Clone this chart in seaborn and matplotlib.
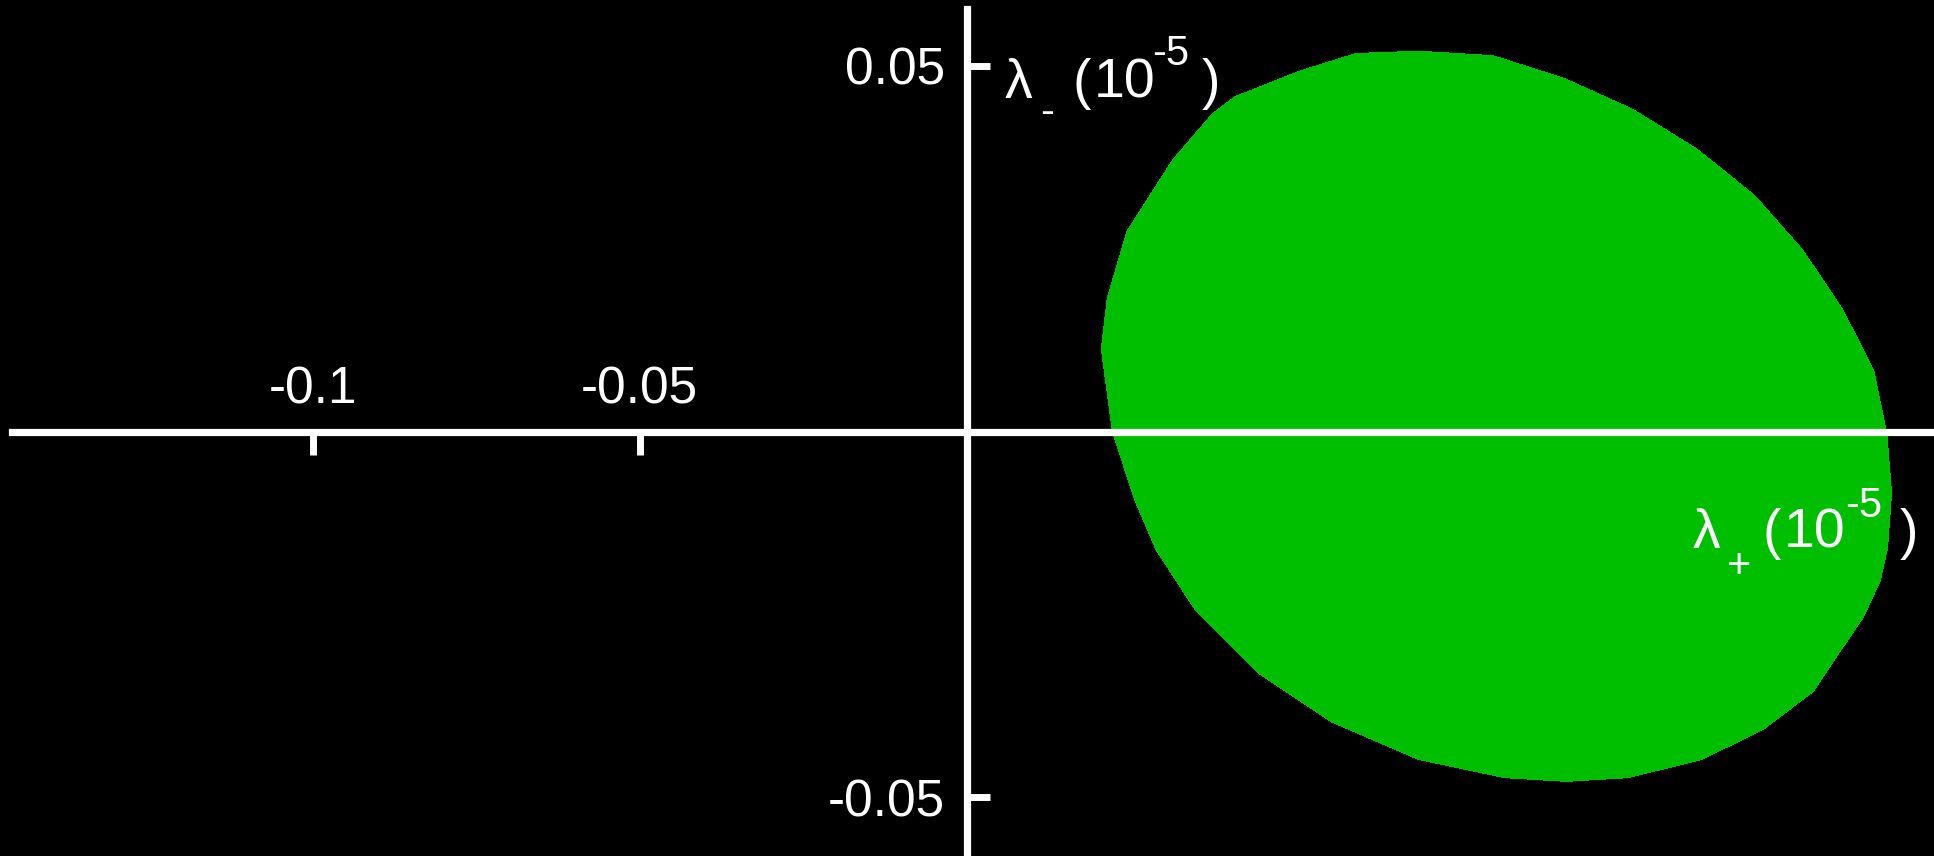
import matplotlib
matplotlib.use("Agg")
import matplotlib.pyplot as plt
import pandas as pd
import seaborn as sns

# Boundary of the allowed region in the (lambda_+, lambda_-) plane, in units of 1e-5,
# traced clockwise starting from the top
lam_plus = [0.0691, 0.0804, 0.0913, 0.1017, 0.1115, 0.1204, 0.1277, 0.1338,
            0.1386, 0.1406, 0.1413, 0.1407, 0.1396, 0.1370, 0.1332, 0.1294,
            0.1219, 0.1124, 0.1011, 0.0917, 0.0823, 0.0691, 0.0559, 0.0446,
            0.0351, 0.0290, 0.0258, 0.0224, 0.0207, 0.0216, 0.0246, 0.0316,
            0.0377, 0.0411, 0.0510, 0.0596]
lam_minus = [0.0519, 0.0513, 0.0482, 0.0440, 0.0386, 0.0322, 0.0248, 0.0167,
             0.0083, -0.0005, -0.0084, -0.0158, -0.0203, -0.0253, -0.0303, -0.0354,
             -0.0405, -0.0447, -0.0472, -0.0477, -0.0472, -0.0447, -0.0396, -0.0329,
             -0.0244, -0.0160, -0.0093, 0.0000, 0.0113, 0.0182, 0.0273, 0.0371,
             0.0434, 0.0457, 0.0492, 0.0516]

x_ticks = [-0.1, -0.05, 0.05, 0.1]
x_tick_labels = ["-0.1", "-0.05", "0.05", "0.1"]
y_ticks = [-0.05, 0.05]
y_tick_labels = ["-0.05", "0.05"]

FILL = "#00bf00"
FG = "white"
TICK_FS = 37
MAIN_FS = 40
SUP_FS = 30
SUB_FS = 30
W, H = 1934, 856

sns.set_theme(style="white", rc={
    "figure.facecolor": "black",
    "axes.facecolor": "black",
    "savefig.facecolor": "black",
    "text.color": FG,
    "xtick.color": FG,
    "ytick.color": FG,
    "axes.edgecolor": FG,
})
plt.rcParams["font.family"] = ["Liberation Sans", "DejaVu Sans"]

df = pd.DataFrame({"lp": lam_plus + lam_plus[:1], "lm": lam_minus + lam_minus[:1]})

fig = plt.figure(figsize=(W / 100, H / 100), dpi=100)
ax = fig.add_axes([0, 0, 1, 1])

ax.fill(df["lp"], df["lm"], color=FILL, lw=0, antialiased=False, zorder=1)
sns.lineplot(data=df, x="lp", y="lm", sort=False, estimator=None, color=FILL,
             lw=1, antialiased=False, ax=ax, zorder=1)

ax.set_xlim(-0.1478, 0.1479)
ax.set_ylim(-0.0580, 0.0590)

# Axes cross at the origin
for side in ("bottom", "top", "left", "right"):
    ax.spines[side].set_position(("data", 0))
ax.spines["top"].set_visible(False)
ax.spines["right"].set_visible(False)
for side in ("bottom", "left"):
    ax.spines[side].set_linewidth(5.2)
    ax.spines[side].set_zorder(3)
ax.spines["bottom"].set_bounds(-0.1460, 0.1479)
ax.spines["left"].set_bounds(-0.0580, 0.0578)

ax.set_xticks(x_ticks)
ax.set_xticklabels(x_tick_labels)
ax.set_yticks(y_ticks)
ax.set_yticklabels(y_tick_labels)

ax.tick_params(axis="x", bottom=True, top=False, labelbottom=False, labeltop=True,
               direction="out", length=16.5, width=5, pad=-3.8, labelsize=TICK_FS,
               labelcolor=FG)
ax.tick_params(axis="y", left=True, right=False, labelleft=True, labelright=False,
               direction="in", length=16.5, width=5, pad=15.5, labelsize=TICK_FS,
               labelcolor=FG)
ax.set_xlabel("")
ax.set_ylabel("")


def axis_name(pieces):
    """Write an axis name from (text, size, x_px, baseline_px) pieces."""
    for txt, fs, xp, yp in pieces:
        fig.text(xp / W, 1 - yp / H, txt, ha="left", va="baseline",
                 fontsize=fs, color=FG)


# lambda_- (10^-5) beside the vertical axis
axis_name([("\u03bb", MAIN_FS, 1005, 98), ("-", SUB_FS, 1040, 124),
           ("(", MAIN_FS, 1073, 98), ("10", MAIN_FS, 1094, 98),
           ("-5", SUP_FS, 1152, 65), (")", MAIN_FS, 1202, 98)])
# lambda_+ (10^-5) below the right end of the horizontal axis
axis_name([("\u03bb", MAIN_FS, 1693, 548), ("+", SUB_FS, 1727, 578),
           ("(", MAIN_FS, 1762, 548), ("10", MAIN_FS, 1784, 548),
           ("-5", SUP_FS, 1845, 517), (")", MAIN_FS, 1900, 548)])

fig.savefig("out.png", dpi=100, facecolor="black")
